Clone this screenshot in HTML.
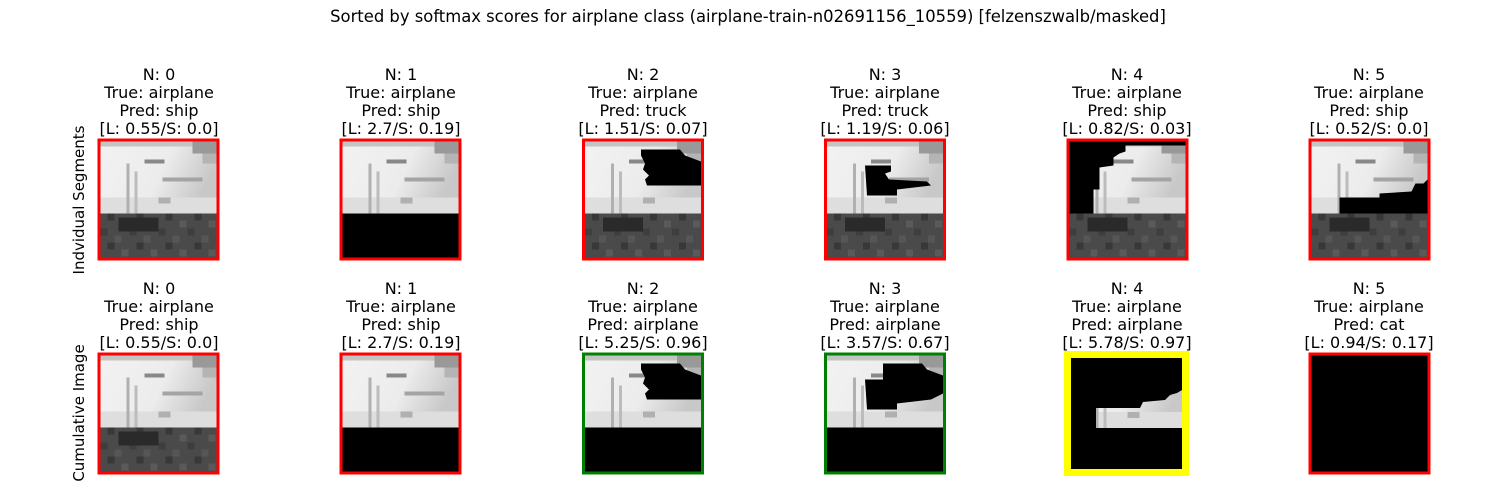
<!DOCTYPE html>
<html><head><meta charset="utf-8"><style>
html,body{margin:0;padding:0;background:#fff;}
svg{display:block;font-family:"DejaVu Sans","Liberation Sans",sans-serif;}
</style></head><body>
<svg width="1500" height="500" viewBox="0 0 1500 500" xmlns="http://www.w3.org/2000/svg">
<defs>
<linearGradient id="sky" x1="0" y1="0" x2="1" y2="0.3">
<stop offset="0" stop-color="#f2f2f2"/><stop offset="0.6" stop-color="#ececec"/><stop offset="1" stop-color="#c8c8c8"/>
</linearGradient>
<pattern id="noise" width="29" height="29" patternUnits="userSpaceOnUse">
<rect width="29" height="29" fill="#4a4a4a"/>
<rect x="0" y="0" width="7" height="7" fill="#3e3e3e"/>
<rect x="14" y="7" width="7" height="7" fill="#565656"/>
<rect x="7" y="14" width="7" height="7" fill="#383838"/>
<rect x="21" y="21" width="7" height="7" fill="#5a5a5a"/>
</pattern>
<g id="base">
<rect x="0" y="0" width="116" height="72" fill="url(#sky)"/>
<rect x="0" y="0" width="116" height="5" fill="#c4c4c4"/>
<rect x="92" y="0" width="24" height="12" fill="#999"/>
<rect x="102" y="12" width="14" height="10" fill="#b4b4b4"/>
<rect x="0" y="56" width="116" height="16" fill="#dedede"/>
<rect x="26" y="22" width="3" height="50" fill="#b0b0b0"/>
<rect x="34" y="30" width="3" height="42" fill="#bcbcbc"/>
<rect x="44" y="18" width="20" height="4" fill="#888"/>
<rect x="62" y="36" width="40" height="4" fill="#a4a4a4"/>
<rect x="58" y="56" width="12" height="6" fill="#b0b0b0"/>
<rect x="0" y="72" width="116" height="44" fill="url(#noise)"/>
<rect x="18" y="76" width="40" height="14" fill="#2a2a2a"/>
</g>
<clipPath id="strip"><polygon points="1096,408 1140,408 1143,402 1165,400 1170,395 1177,393 1182,390 1182,428 1096,428"/></clipPath>
</defs>

<text x="748" y="22" font-size="16.4" text-anchor="middle">Sorted by softmax scores for airplane class (airplane-train-n02691156_10559) [felzenszwalb/masked]</text>

<text transform="translate(84,200) rotate(-90)" font-size="15" text-anchor="middle">Indvidual Segments</text>
<text transform="translate(84,413) rotate(-90)" font-size="15" text-anchor="middle">Cumulative Image</text>

<g font-size="16" text-anchor="middle">
<text x="159" y="80">N: 0</text><text x="159" y="98">True: airplane</text><text x="159" y="116">Pred: ship</text><text x="159" y="134">[L: 0.55/S: 0.0]</text>
<text x="401" y="80">N: 1</text><text x="401" y="98">True: airplane</text><text x="401" y="116">Pred: ship</text><text x="401" y="134">[L: 2.7/S: 0.19]</text>
<text x="643" y="80">N: 2</text><text x="643" y="98">True: airplane</text><text x="643" y="116">Pred: truck</text><text x="643" y="134">[L: 1.51/S: 0.07]</text>
<text x="885" y="80">N: 3</text><text x="885" y="98">True: airplane</text><text x="885" y="116">Pred: truck</text><text x="885" y="134">[L: 1.19/S: 0.06]</text>
<text x="1127" y="80">N: 4</text><text x="1127" y="98">True: airplane</text><text x="1127" y="116">Pred: ship</text><text x="1127" y="134">[L: 0.82/S: 0.03]</text>
<text x="1369" y="80">N: 5</text><text x="1369" y="98">True: airplane</text><text x="1369" y="116">Pred: ship</text><text x="1369" y="134">[L: 0.52/S: 0.0]</text>
<text x="159" y="294">N: 0</text><text x="159" y="312">True: airplane</text><text x="159" y="330">Pred: ship</text><text x="159" y="348">[L: 0.55/S: 0.0]</text>
<text x="401" y="294">N: 1</text><text x="401" y="312">True: airplane</text><text x="401" y="330">Pred: ship</text><text x="401" y="348">[L: 2.7/S: 0.19]</text>
<text x="643" y="294">N: 2</text><text x="643" y="312">True: airplane</text><text x="643" y="330">Pred: airplane</text><text x="643" y="348">[L: 5.25/S: 0.96]</text>
<text x="885" y="294">N: 3</text><text x="885" y="312">True: airplane</text><text x="885" y="330">Pred: airplane</text><text x="885" y="348">[L: 3.57/S: 0.67]</text>
<text x="1127" y="294">N: 4</text><text x="1127" y="312">True: airplane</text><text x="1127" y="330">Pred: airplane</text><text x="1127" y="348">[L: 5.78/S: 0.97]</text>
<text x="1369" y="294">N: 5</text><text x="1369" y="312">True: airplane</text><text x="1369" y="330">Pred: cat</text><text x="1369" y="348">[L: 0.94/S: 0.17]</text>
</g>

<g transform="translate(100.5,141.5)"><use href="#base"/>
<rect x="-1.5" y="-1.5" width="119" height="119" fill="none" stroke="#f00" stroke-width="3"/></g>
<g transform="translate(342.5,141.5)"><use href="#base"/><rect x="0" y="72" width="116" height="44" fill="#000"/>
<rect x="-1.5" y="-1.5" width="119" height="119" fill="none" stroke="#f00" stroke-width="3"/></g>
<g transform="translate(585,141.5)"><use href="#base"/>
<polygon points="56,8 95,8 100,14 116,20 116,44 62,44 60,38 64,34 58,28 60,22 56,14" fill="#000"/>
<rect x="-1.5" y="-1.5" width="119" height="119" fill="none" stroke="#f00" stroke-width="3"/></g>
<g transform="translate(827,141.5)"><use href="#base"/>
<polygon points="38,24 64,24 64,30 58,32 62,38 100,40 104,44 70,48 70,54 40,54" fill="#000"/>
<rect x="-1.5" y="-1.5" width="119" height="119" fill="none" stroke="#f00" stroke-width="3"/></g>
<g transform="translate(1069.5,141.5)"><use href="#base"/>
<polygon points="0,0 116,0 116,4 56,4 56,10 50,12 44,16 44,24 30,26 30,48 24,48 24,72 0,72" fill="#000"/>
<rect x="-1.5" y="-1.5" width="119" height="119" fill="none" stroke="#f00" stroke-width="3"/></g>
<g transform="translate(1311.5,141.5)"><use href="#base"/>
<polygon points="104,42 112,42 116,38 116,72 28,72 28,56 68,56 68,52 100,50" fill="#000"/>
<rect x="-1.5" y="-1.5" width="119" height="119" fill="none" stroke="#f00" stroke-width="3"/></g>

<g transform="translate(100.5,355.5)"><use href="#base"/>
<rect x="-1.5" y="-1.5" width="119" height="119" fill="none" stroke="#f00" stroke-width="3"/></g>
<g transform="translate(342.5,355.5)"><use href="#base"/><rect x="0" y="72" width="116" height="44" fill="#000"/>
<rect x="-1.5" y="-1.5" width="119" height="119" fill="none" stroke="#f00" stroke-width="3"/></g>
<g transform="translate(585,355.5)"><use href="#base"/><rect x="0" y="72" width="116" height="44" fill="#000"/>
<polygon points="56,8 95,8 100,14 116,20 116,44 62,44 60,38 64,34 58,28 60,22 56,14" fill="#000"/>
<rect x="-1.5" y="-1.5" width="119" height="119" fill="none" stroke="#008000" stroke-width="3"/></g>
<g transform="translate(827,355.5)"><use href="#base"/><rect x="0" y="72" width="116" height="44" fill="#000"/>
<polygon points="56,8 95,8 100,14 116,20 116,38 104,44 70,48 70,54 40,54 38,24 56,24 56,14" fill="#000"/>
<rect x="-1.5" y="-1.5" width="119" height="119" fill="none" stroke="#008000" stroke-width="3"/></g>

<rect x="1067.5" y="354.5" width="118" height="118" fill="#000" stroke="#ffff00" stroke-width="7"/>
<g clip-path="url(#strip)"><g transform="translate(1069.5,356)"><use href="#base"/></g></g>

<g transform="translate(1311.5,355.5)"><rect x="0" y="0" width="116" height="116" fill="#000"/>
<rect x="-1.5" y="-1.5" width="119" height="119" fill="none" stroke="#f00" stroke-width="3"/></g>
</svg>
</body></html>
